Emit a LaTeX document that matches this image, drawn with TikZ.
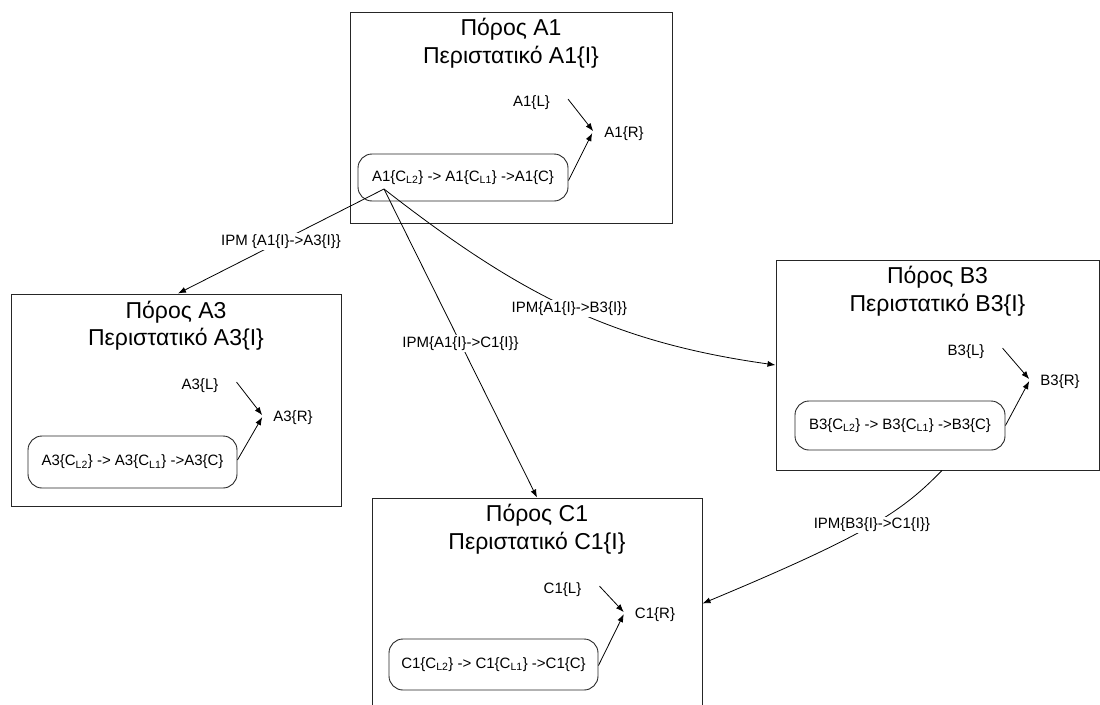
\documentclass[tikz,border=0pt]{standalone}
\usepackage{fontspec}
\setmainfont{Liberation Sans}
\usetikzlibrary{arrows.meta}
\begin{document}
\begin{tikzpicture}[x=1pt,y=-1pt,
  every node/.style={font=\fontsize{15}{18}\selectfont,inner sep=0pt},
  pool/.style={draw=black!85,line width=1pt,rectangle,inner sep=0pt},
  chain/.style={draw=black!85,line width=0.9pt,rounded corners=14pt,inner sep=0pt},
  heading/.style={anchor=base,font=\fontsize{23}{27}\selectfont},
  item/.style={anchor=base},
  link/.style={draw=black,line width=0.8pt,-{Latex[length=8pt,width=6pt]}},
  tag/.style={fill=white,inner sep=1.5pt}
]
\useasboundingbox (0,0) rectangle (1100,704);
\clip (0,0) rectangle (1100,704);

% ---- resource A1 ----
\node[pool,minimum width=322pt,minimum height=211pt] (A1box) at (511,117.5) {};
\node[heading] (A1t1) at (511,35) {Πόρος A1};
\node[heading] (A1t2) at (511,63) {Περιστατικό A1\{I\}};
\node[item] (A1L) at (531.5,106) {A1\{L\}};
\node[item] (A1R) at (624,137) {A1\{R\}};
\node[chain,minimum width=210pt,minimum height=47pt] (A1c) at (463,177.5)
  {A1\{C\textsubscript{L2}\} -> A1\{C\textsubscript{L1}\} ->A1\{C\}};
\draw[link] ([xshift=18pt,yshift=3pt]A1L.east) -- ([xshift=-11pt,yshift=2pt]A1R.west);
\draw[link] ([yshift=-3pt]A1c.east) -- ([xshift=-12pt]A1R.west);

% ---- resource A3 ----
\node[pool,minimum width=330pt,minimum height=212pt] (A3box) at (176,400) {};
\node[heading] (A3t1) at (176,318) {Πόρος A3};
\node[heading] (A3t2) at (176,345) {Περιστατικό A3\{I\}};
\node[item] (A3L) at (200,389) {A3\{L\}};
\node[item] (A3R) at (293,421) {A3\{R\}};
\node[chain,minimum width=209pt,minimum height=52pt] (A3c) at (132.5,462)
  {A3\{C\textsubscript{L2}\} -> A3\{C\textsubscript{L1}\} ->A3\{C\}};
\draw[link] ([xshift=18pt,yshift=3pt]A3L.east) -- ([xshift=-11pt,yshift=2pt]A3R.west);
\draw[link] ([yshift=2pt]A3c.east) -- ([xshift=-11pt]A3R.west);

% ---- resource B3 ----
\node[pool,minimum width=323pt,minimum height=210pt] (B3box) at (937.5,365) {};
\node[heading] (B3t1) at (937.5,283) {Πόρος B3};
\node[heading] (B3t2) at (937.5,311) {Περιστατικό B3\{I\}};
\node[item] (B3L) at (966,355) {B3\{L\}};
\node[item] (B3R) at (1060,385) {B3\{R\}};
\node[chain,minimum width=210pt,minimum height=49pt] (B3c) at (900,425.5)
  {B3\{C\textsubscript{L2}\} -> B3\{C\textsubscript{L1}\} ->B3\{C\}};
\draw[link] ([xshift=18pt,yshift=3pt]B3L.east) -- ([xshift=-11pt,yshift=2pt]B3R.west);
\draw[link] (B3c.east) -- ([xshift=-11pt]B3R.west);

% ---- resource C1 ----
\node[pool,minimum width=330pt,minimum height=211pt] (C1box) at (537,603.5) {};
\node[heading] (C1t1) at (537,521) {Πόρος C1};
\node[heading] (C1t2) at (537,549) {Περιστατικό C1\{I\}};
\node[item] (C1L) at (562.5,593) {C1\{L\}};
\node[item] (C1R) at (655,618) {C1\{R\}};
\node[chain,minimum width=209pt,minimum height=51pt] (C1c) at (493.5,664.5)
  {C1\{C\textsubscript{L2}\} -> C1\{C\textsubscript{L1}\} ->C1\{C\}};
\draw[link] ([xshift=18pt,yshift=3pt]C1L.east) -- ([xshift=-11pt,yshift=2pt]C1R.west);
\draw[link] ([yshift=-1pt]C1c.east) -- ([xshift=-11pt]C1R.west);

% ---- messages between resources ----
\coordinate (A1src) at (384,189);
\draw[link] (A1src) -- node[tag] {IPM \{A1\{I\}->A3\{I\}\}} ([xshift=2pt]A3box.north);
\draw[link] (A1src) -- node[tag] {IPM\{A1\{I\}->C1\{I\}\}} (C1box.north);
\draw[link] (A1src) .. controls (520,295) and (612,342) ..
  node[tag] {IPM\{A1\{I\}->B3\{I\}\}} (B3box.west);
\draw[link] ([xshift=4.5pt]B3box.south) .. controls (903,510) and (874,532) ..
  node[tag] {IPM\{B3\{I\}->C1\{I\}\}} (C1box.east);
\end{tikzpicture}
\end{document}
